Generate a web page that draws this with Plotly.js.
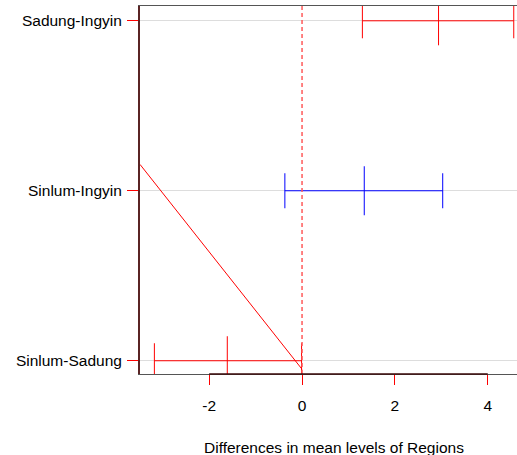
<!DOCTYPE html>
<html>
<head>
<meta charset="utf-8">
<script src="https://cdn.plot.ly/plotly-3.0.1.min.js"></script>
<style>html,body{margin:0;padding:0;overflow:hidden;background:#fff}#chart{width:517px;height:455px}</style>
</head>
<body>
<div id="chart"></div>
<script>
// Tukey HSD comparisons (bottom to top)
var comparisons = ["Sinlum-Sadung", "Sinlum-Ingyin", "Sadung-Ingyin"];
var diffs = [-1.61, 1.34, 2.94];
var lowers = [-3.18, -0.37, 1.30];
var uppers = [-0.01, 3.03, 4.56];
var colors = ["red", "blue", "red"];
var xTicks = [-2, 0, 2, 4];
var diagX = [-3.49, 0.0];
var diagY = [2.155, 0.95];

var positions = comparisons.map(function(_, i){ return i + 1; });
var traces = [];
comparisons.forEach(function(name, i){
  traces.push({
    type: "scatter", mode: "markers",
    x: [diffs[i]], y: [positions[i]],
    marker: {symbol: "line-ns", size: 35, color: colors[i], line: {color: colors[i], width: 1}},
    error_x: {type: "data", symmetric: false,
      array: [uppers[i] - diffs[i]], arrayminus: [diffs[i] - lowers[i]],
      color: colors[i], thickness: 1, width: 17.5},
    hoverinfo: "skip", showlegend: false
  });
});
traces.push({
  type: "scatter", mode: "lines", x: diagX, y: diagY,
  line: {color: "red", width: 1}, hoverinfo: "skip", showlegend: false
});

var layout = {
  width: 517, height: 455,
  margin: {l: 140, r: 0, t: 6, b: 81},
  paper_bgcolor: "#fff", plot_bgcolor: "#fff",
  font: {family: "Liberation Sans, Arial, sans-serif", size: 15.5, color: "#000"},
  showlegend: false,
  xaxis: {
    range: [-3.49, 4.63], tickvals: xTicks, ticktext: xTicks.map(String),
    ticks: "outside", ticklen: 10, tickcolor: "red", tickwidth: 1,
    showgrid: false, zeroline: false,
    showline: true, linecolor: "#555", linewidth: 1, mirror: true,
    ticklabelstandoff: 7
  },
  yaxis: {
    range: [0.922, 3.087], tickvals: positions, ticktext: comparisons,
    ticks: "outside", ticklen: 11, tickcolor: "red", tickwidth: 1,
    showgrid: true, gridcolor: "#dddddd", gridwidth: 1, zeroline: false,
    showline: true, linecolor: "#5a2424", linewidth: 2,
    ticklabelstandoff: 2
  },
  shapes: [
    {type: "line", xref: "x", yref: "paper", x0: 0, x1: 0, y0: 0, y1: 1,
     line: {color: "#ff5a5a", width: 1.5, dash: "4px,3px"}},
    {type: "line", xref: "x", yref: "paper", x0: xTicks[0], x1: xTicks[xTicks.length-1], y0: 0, y1: 0,
     line: {color: "#3a0a0a", width: 1.5}}
  ],
  annotations: [
    {text: "Differences in mean levels of Regions", xref: "paper", yref: "paper",
     x: 0.5146, y: -0.200, xanchor: "center", yanchor: "middle", showarrow: false,
     font: {size: 15.5, color: "#000"}}
  ]
};
Plotly.newPlot("chart", traces, layout, {displayModeBar: false, staticPlot: true});
</script>
</body>
</html>
